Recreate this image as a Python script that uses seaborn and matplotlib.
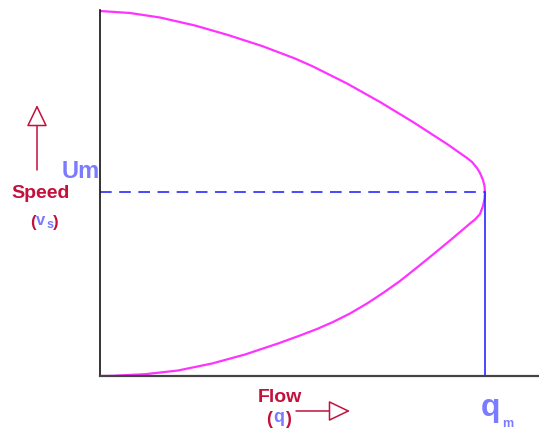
import seaborn as sns
import matplotlib.pyplot as plt

# speed-flow curve (flow units along x, speed units along y)
upper_flow = [0, 30, 60, 95, 128, 162, 195, 213, 247, 280, 313, 347, 367, 372, 377,
              380, 383, 384.5, 385]
upper_speed = [365, 363, 358.5, 350.5, 341, 330, 317.5, 309.5, 292.5, 274, 254, 232, 218, 214,
               208, 203, 196, 190, 184]
lower_flow = [384.5, 383, 380, 375, 370, 350, 333, 317, 300, 283, 267, 250, 233, 217, 200,
              178, 145, 112, 78, 45, 12, 0]
lower_speed = [177, 170, 162, 156.5, 152.5, 135.5, 121.5, 108.5, 95, 83, 72.5, 62.5, 54,
               47, 40.5, 32.5, 21.5, 12.5, 5.5, 1.8, 0.2, 0]

max_flow = 385     # qm
max_speed = 184    # Um

flow = upper_flow + lower_flow
speed = upper_speed + lower_speed

W, H = 539, 430
crimson = '#c4103c'
lavender = '#7b7bff'
blue = '#2a2aff'
magenta = '#ff33ff'

sns.set_style('white')
plt.rcParams['font.family'] = ['Liberation Sans', 'DejaVu Sans']

fig = plt.figure(figsize=(W / 100, H / 100), dpi=100)
ax = fig.add_axes([100 / W, (H - 376) / H, (W - 100) / W, 366 / H])

sns.lineplot(x=flow, y=speed, sort=False, estimator=None, color=magenta, lw=1.6, ax=ax)
ax.plot([0, max_flow], [max_speed, max_speed], color=blue, lw=1.2, ls=(0, (7, 4.5)))
ax.plot([max_flow, max_flow], [0, max_speed], color=blue, lw=1.2)

ax.set_xlim(0, 439)
ax.set_ylim(0, 366)
ax.set_xticks([])
ax.set_yticks([])
for s in ['top', 'right']:
    ax.spines[s].set_visible(False)
ax.spines['left'].set_color('#111111')
ax.spines['left'].set_linewidth(1.2)
ax.spines['bottom'].set_color('#444444')
ax.spines['bottom'].set_linewidth(1.6)


def px(x, y):
    return x / W, 1 - y / H


def label(x, y, s, color, size, **kw):
    fig.text(*px(x, y), s, color=color, fontsize=size, fontweight='bold',
             ha='center', va='center', **kw)


label(81, 172, 'Um', lavender, 17)
label(41, 193, 'Speed', crimson, 14)
label(32.5, 222, '(', crimson, 12)
label(41, 221, 'v', lavender, 12)
label(50, 225, 's', lavender, 9)
label(56, 222, ')', crimson, 12)

label(280, 397, 'Flow', crimson, 14)
label(269.5, 419, '(', crimson, 13)
label(279, 418, 'q', lavender, 13)
label(288, 419, ')', crimson, 13)

label(491, 408, 'q', lavender, 23)
label(508, 424, 'm', lavender, 9)

arrow = dict(arrowstyle='-|>,head_length=1.35,head_width=0.65', fc='white', ec=crimson,
             lw=1.1, shrinkA=0, shrinkB=0, mutation_scale=10)
ax.annotate('', xy=(37, H - 105), xytext=(37, H - 170), xycoords='figure pixels',
            textcoords='figure pixels', arrowprops=arrow, annotation_clip=False)
ax.annotate('', xy=(350, H - 411), xytext=(296, H - 411), xycoords='figure pixels',
            textcoords='figure pixels', arrowprops=arrow, annotation_clip=False)

fig.savefig('out.png', dpi=100)
